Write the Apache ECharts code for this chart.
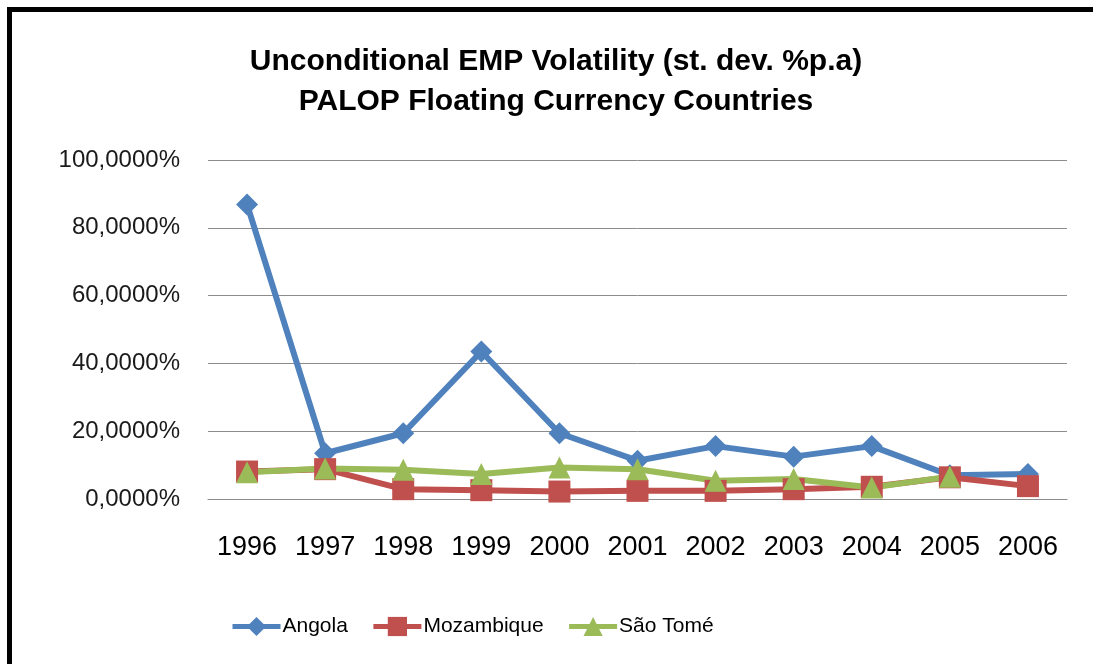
<!DOCTYPE html>
<html>
<head>
<meta charset="utf-8">
<script src="https://cdn.jsdelivr.net/npm/echarts@6/dist/echarts.min.js"></script>
<style>
  html, body { margin: 0; padding: 0; background: #fff; overflow: hidden; }
  #chart { position: absolute; left: 0; top: 0; width: 1093px; height: 664px; }
  /* the black frame only shows on top and left in the reference */
  .frame { position: absolute; left: 7px; top: 7px; width: 1200px; height: 800px;
           border-top: 5px solid #000; border-left: 5px solid #000; pointer-events: none; }
</style>
</head>
<body>
<div id="chart"></div>
<div class="frame"></div>
<script>
// data (percent)
const years = ['1996', '1997', '1998', '1999', '2000', '2001', '2002', '2003', '2004', '2005', '2006'];
const angola = [86.9, 13.5, 19.4, 43.5, 19.4, 11.3, 15.6, 12.5, 15.6, 7.0, 7.4];
const mozambique = [8.1, 8.8, 2.9, 2.6, 2.2, 2.4, 2.4, 2.9, 3.6, 6.4, 3.8];
const saoTome = [7.9, 9.0, 8.6, 7.4, 9.3, 8.8, 5.4, 5.9, 3.4, 6.6, null];

const FONT = "'Liberation Sans', Arial, sans-serif";

const chart = echarts.init(document.getElementById('chart'));

function lineSeries(name, data, color, symbol, size) {
  return {
    name, type: 'line', data, symbol, symbolSize: size,
    lineStyle: { color, width: 6 },
    itemStyle: { color },
    emphasis: { disabled: true },
    animation: false
  };
}

chart.setOption({
  backgroundColor: 'transparent',
  title: {
    text: 'Unconditional EMP Volatility (st. dev. %p.a)\nPALOP Floating Currency Countries',
    left: 556,
    top: 42,
    padding: 0,
    textAlign: 'center',
    textStyle: { fontFamily: FONT, fontWeight: 'bold', fontSize: 30, lineHeight: 40, color: '#000' }
  },
  legend: {
    left: 225,
    top: 611,
    itemWidth: 48,
    itemHeight: 24,
    itemGap: 23,
    lineStyle: { width: 5 },
    textStyle: { fontFamily: FONT, fontSize: 21, color: '#000', padding: [0, 0, 0, -3] },
    data: ['Angola', 'Mozambique', 'São Tomé']
  },
  grid: { left: 208, right: 26, top: 160, bottom: 165 },
  xAxis: {
    type: 'category',
    data: years,
    axisLine: { show: true, lineStyle: { color: '#8c8c8c', width: 1 } },
    axisTick: { show: false },
    axisLabel: { margin: 35, fontFamily: FONT, fontSize: 27, color: '#000' }
  },
  yAxis: {
    type: 'value',
    min: 0, max: 100, interval: 20,
    axisLine: { show: false },
    axisTick: { show: false },
    splitLine: { lineStyle: { color: '#8c8c8c', width: 1 } },
    axisLabel: {
      margin: 28, fontFamily: FONT, fontSize: 24, color: '#1a1a1a',
      formatter: v => v.toFixed(4).replace('.', ',') + '%'
    }
  },
  series: [
    lineSeries('Angola', angola, '#4F81BD', 'diamond', 22),
    lineSeries('Mozambique', mozambique, '#C0504D', 'rect', 22),
    lineSeries('São Tomé', saoTome, '#9BBB59', 'triangle', 22)
  ]
});
</script>
</body>
</html>
